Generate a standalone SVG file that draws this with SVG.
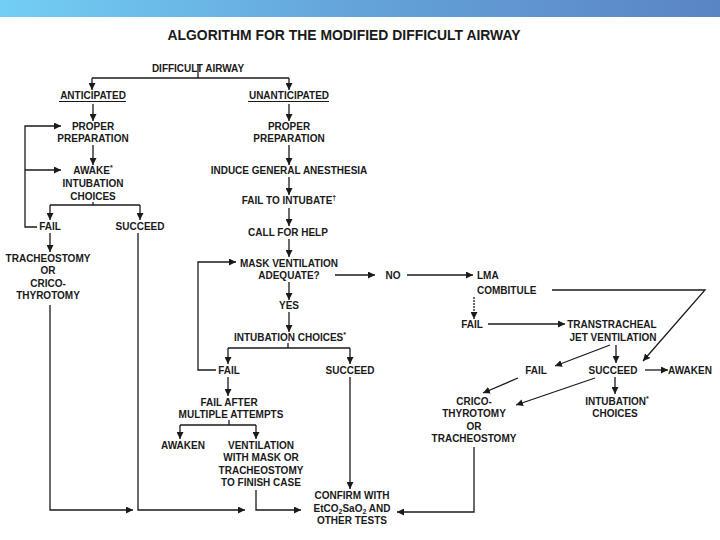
<svg xmlns="http://www.w3.org/2000/svg" width="720" height="540" viewBox="0 0 720 540">
<defs>
<linearGradient id="bar" x1="0" y1="0" x2="1" y2="0">
<stop offset="0" stop-color="#72cef4"/>
<stop offset="0.5" stop-color="#64a3da"/>
<stop offset="1" stop-color="#5a84c5"/>
</linearGradient>
<marker id="ah" viewBox="0 0 10 10" refX="10" refY="5" markerWidth="7" markerHeight="7" markerUnits="userSpaceOnUse" orient="auto">
<path d="M0,0 L10,5 L0,10 z" fill="#1a1a1a"/>
</marker>
<style>
text{font-family:"Liberation Sans",Arial,sans-serif;font-weight:bold;font-size:10px;fill:#1a1a1a;text-anchor:middle}
.s{text-anchor:start}
.t{font-size:15px}
.c line,.c path,.c polyline{stroke:#1a1a1a;stroke-width:1.3;fill:none}
.a{marker-end:url(#ah)}
.sup{font-size:7px}
</style>
</defs>
<rect width="720" height="540" fill="#fff"/>
<rect x="0" y="0" width="720" height="17" fill="url(#bar)"/>
<text class="t" x="344" y="40" textLength="353" lengthAdjust="spacingAndGlyphs">ALGORITHM FOR THE MODIFIED DIFFICULT AIRWAY</text>

<g id="difficult"><text x="198" y="72">DIFFICULT AIRWAY</text></g>
<g id="anticipated"><text x="93" y="98.5">ANTICIPATED</text><line x1="59" y1="101.5" x2="126" y2="101.5" stroke="#1a1a1a" stroke-width="1"/></g>
<g id="unanticipated"><text x="289" y="98.5">UNANTICIPATED</text><line x1="248" y1="101.5" x2="329" y2="101.5" stroke="#1a1a1a" stroke-width="1"/></g>
<g id="prep1"><text x="93" y="130">PROPER</text><text x="93" y="142">PREPARATION</text></g>
<g id="awake"><text x="93" y="174">AWAKE<tspan class="sup" dy="-4">*</tspan></text><text x="93" y="187">INTUBATION</text><text x="93" y="200">CHOICES</text></g>
<g id="fail1"><text x="50" y="230">FAIL</text></g>
<g id="succeed1"><text x="140" y="230">SUCCEED</text></g>
<g id="trach1"><text x="48" y="262">TRACHEOSTOMY</text><text x="48" y="274">OR</text><text x="48" y="286.5">CRICO-</text><text x="48" y="299">THYROTOMY</text></g>
<g id="prep2"><text x="289" y="130">PROPER</text><text x="289" y="142">PREPARATION</text></g>
<g id="induce"><text x="289" y="174">INDUCE GENERAL ANESTHESIA</text></g>
<g id="failint"><text x="289" y="204">FAIL TO INTUBATE<tspan class="sup" dy="-4" font-size="9">†</tspan></text></g>
<g id="help"><text x="288" y="236">CALL FOR HELP</text></g>
<g id="mask"><text x="289" y="267">MASK VENTILATION</text><text x="289" y="279">ADEQUATE?</text></g>
<g id="no"><text x="393" y="279">NO</text></g>
<g id="yes"><text x="289" y="309">YES</text></g>
<g id="intchoices"><text x="290" y="341">INTUBATION CHOICES<tspan class="sup" dy="-4">*</tspan></text></g>
<g id="fail2"><text x="229" y="374">FAIL</text></g>
<g id="succeed2"><text x="350" y="374">SUCCEED</text></g>
<g id="failafter"><text x="229" y="406">FAIL AFTER</text><text x="231" y="417.5">MULTIPLE ATTEMPTS</text></g>
<g id="awaken1"><text x="183" y="448.5">AWAKEN</text></g>
<g id="ventmask"><text x="261" y="448.5">VENTILATION</text><text x="261" y="461">WITH MASK OR</text><text x="261" y="473.5">TRACHEOSTOMY</text><text x="261" y="486">TO FINISH CASE</text></g>
<g id="confirm"><text x="352" y="499">CONFIRM WITH</text><text x="352" y="511.5">EtCO<tspan font-size="7" dy="2">2</tspan><tspan dy="-2">SaO</tspan><tspan font-size="7" dy="2">2</tspan><tspan dy="-2"> AND</tspan></text><text x="352" y="524">OTHER TESTS</text></g>
<g id="lma"><text class="s" x="477" y="279">LMA</text><text class="s" x="477" y="294">COMBITULE</text></g>
<g id="fail3"><text x="472" y="328">FAIL</text></g>
<g id="ttjv"><text x="612" y="328">TRANSTRACHEAL</text><text x="613" y="341">JET VENTILATION</text></g>
<g id="fail4"><text x="536" y="374">FAIL</text></g>
<g id="succeed3"><text x="613" y="374">SUCCEED</text></g>
<g id="awaken2"><text class="s" x="668" y="374">AWAKEN</text></g>
<g id="intchoices2"><text x="617" y="405">INTUBATION<tspan class="sup" dy="-4">*</tspan></text><text x="615" y="417">CHOICES</text></g>
<g id="crico2"><text x="474" y="405">CRICO-</text><text x="474" y="417">THYROTOMY</text><text x="474" y="430">OR</text><text x="474" y="442">TRACHEOSTOMY</text></g>

<g id="connectors" class="c">
<line x1="198" y1="65" x2="198" y2="78"/>
<line x1="92" y1="78" x2="289" y2="78"/>
<line class="a" x1="92" y1="78" x2="92" y2="90"/>
<line class="a" x1="289" y1="78" x2="289" y2="90"/>
<line class="a" x1="93" y1="104" x2="93" y2="121"/>
<line class="a" x1="93" y1="145" x2="93" y2="165"/>
<line x1="93" y1="202" x2="93" y2="205"/>
<line x1="50" y1="205" x2="140" y2="205"/>
<line class="a" x1="50" y1="205" x2="50" y2="220"/>
<line class="a" x1="140" y1="205" x2="140" y2="220"/>
<polyline class="a" points="37,227 25,227 25,126 61,126"/>
<line class="a" x1="25" y1="170" x2="61" y2="170"/>
<line class="a" x1="50" y1="233" x2="50" y2="252"/>
<polyline class="a" points="50,305 50,510 133,510"/>
<polyline class="a" points="138,233 138,510 245,510"/>
<line class="a" x1="289" y1="104" x2="289" y2="121"/>
<line class="a" x1="289" y1="145" x2="289" y2="165"/>
<line class="a" x1="289" y1="177" x2="289" y2="195"/>
<line class="a" x1="289" y1="208" x2="289" y2="226"/>
<line class="a" x1="289" y1="239" x2="289" y2="257"/>
<line class="a" x1="289" y1="282" x2="289" y2="300"/>
<line class="a" x1="289" y1="312" x2="289" y2="332"/>
<line x1="288" y1="343" x2="288" y2="348"/>
<line x1="228" y1="348" x2="350" y2="348"/>
<line class="a" x1="228" y1="348" x2="228" y2="364"/>
<line class="a" x1="350" y1="348" x2="350" y2="364"/>
<polyline class="a" points="216,370 198,370 198,262 236,262"/>
<line class="a" x1="228" y1="377" x2="228" y2="396"/>
<line x1="229" y1="420" x2="229" y2="425"/>
<line x1="180" y1="425" x2="256" y2="425"/>
<line class="a" x1="180" y1="425" x2="180" y2="439"/>
<line class="a" x1="256" y1="425" x2="256" y2="439"/>
<line class="a" x1="350" y1="377" x2="350" y2="489"/>
<polyline class="a" points="256,490 256,510 301,510"/>
<line class="a" x1="335" y1="275" x2="375" y2="275"/>
<line class="a" x1="407" y1="275" x2="473" y2="275"/>
<line class="a" x1="474" y1="297" x2="474" y2="319" stroke-dasharray="2 1"/>
<line class="a" x1="488" y1="324" x2="565" y2="324"/>
<polyline class="a" points="552,290 705,290 643,361"/>
<line class="a" x1="616" y1="345" x2="616" y2="363"/>
<line class="a" x1="610" y1="345" x2="555" y2="366"/>
<line class="a" x1="645" y1="370" x2="668" y2="370"/>
<line class="a" x1="518" y1="378" x2="483" y2="393"/>
<line class="a" x1="595" y1="378" x2="516" y2="405"/>
<line class="a" x1="615" y1="377" x2="615" y2="394"/>
<polyline class="a" points="474,447 474,512 397,512"/>
</g>
</svg>
